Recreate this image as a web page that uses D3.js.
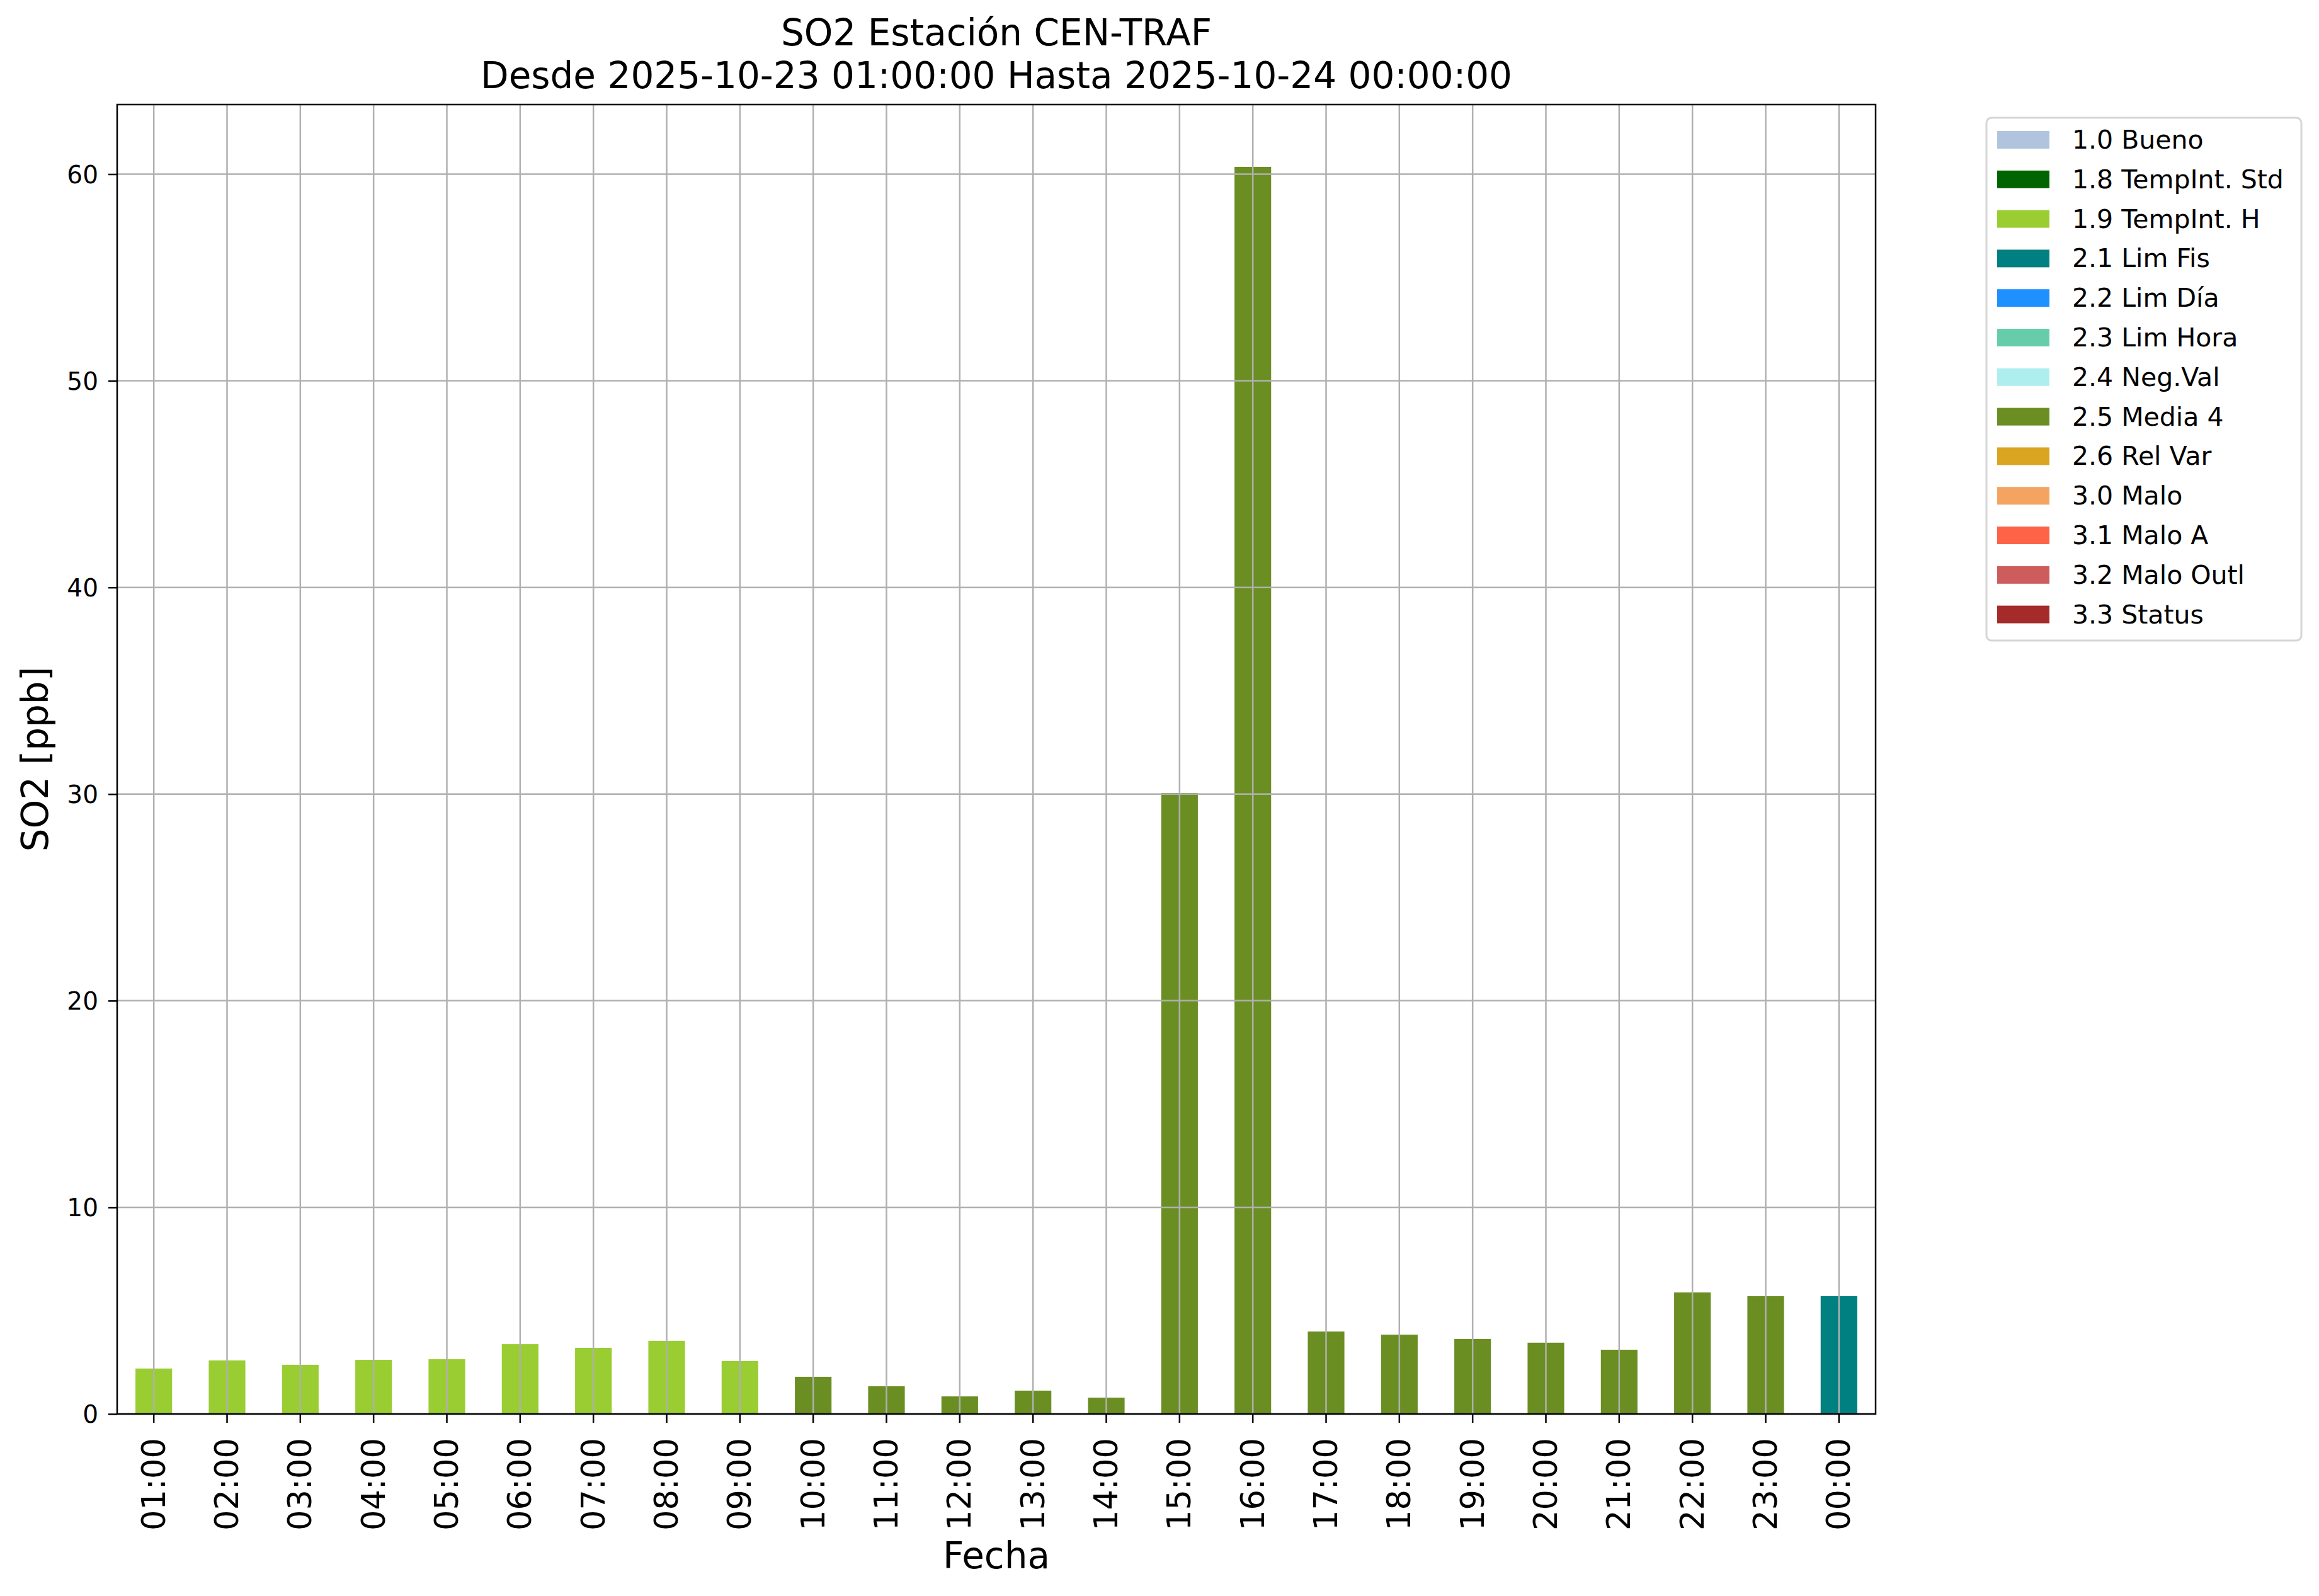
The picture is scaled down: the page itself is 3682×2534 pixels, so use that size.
<!DOCTYPE html>
<html><head><meta charset="utf-8">
<script src="https://cdn.jsdelivr.net/npm/d3@7"></script>
<style>body{margin:0;background:#fff}svg{display:block}text{font-family:"DejaVu Sans",sans-serif}</style>
</head><body>
<script>
const hours = ["01:00","02:00","03:00","04:00","05:00","06:00","07:00","08:00","09:00","10:00","11:00","12:00","13:00","14:00","15:00","16:00","17:00","18:00","19:00","20:00","21:00","22:00","23:00","00:00"];
const values = [2.2,2.59,2.38,2.62,2.65,3.38,3.2,3.54,2.56,1.8,1.34,0.85,1.13,0.79,30.05,60.35,3.99,3.84,3.63,3.45,3.11,5.88,5.70,5.70];
const flags = ["1.9","1.9","1.9","1.9","1.9","1.9","1.9","1.9","1.9","2.5","2.5","2.5","2.5","2.5","2.5","2.5","2.5","2.5","2.5","2.5","2.5","2.5","2.5","2.1"];
const legendCodes = ["1.0","1.8","1.9","2.1","2.2","2.3","2.4","2.5","2.6","3.0","3.1","3.2","3.3"];
const legendLabels = ["1.0 Bueno","1.8 TempInt. Std","1.9 TempInt. H","2.1 Lim Fis","2.2 Lim Día","2.3 Lim Hora","2.4 Neg.Val","2.5 Media 4","2.6 Rel Var","3.0 Malo","3.1 Malo A","3.2 Malo Outl","3.3 Status"];
const legendColors = ["#B0C4DE","#006400","#9ACD32","#008080","#1E90FF","#66CDAA","#AFEEEE","#6B8E23","#DAA520","#F4A460","#FF6347","#CD5C5C","#A52A2A"];
const yTicks = [0,10,20,30,40,50,60];

const W = 3682, H = 2534;
const L = 186, R = 2978, T = 166, B = 2245;
const svg = d3.select("body").append("svg").attr("width", W).attr("height", H);

const color = d3.scaleOrdinal().domain(legendCodes).range(legendColors);
const x = d3.scaleBand().domain(hours).range([L, R]).paddingInner(0.5).paddingOuter(0.25);
const yMax = d3.max(values) * 1.05;
const y = d3.scaleLinear().domain([0, yMax]).range([B, T]);

// bars
svg.append("g").selectAll("rect").data(values).join("rect")
  .attr("x", (d,i) => x(hours[i]))
  .attr("width", x.bandwidth())
  .attr("y", d => y(d))
  .attr("height", d => B - y(d))
  .attr("fill", (d,i) => color(flags[i]));

// grid
const grid = svg.append("g").attr("stroke", "#b0b0b0").attr("stroke-width", 2.5);
grid.selectAll(".gx").data(hours).join("line")
  .attr("x1", d => x(d) + x.bandwidth()/2).attr("x2", d => x(d) + x.bandwidth()/2)
  .attr("y1", T).attr("y2", B);
grid.selectAll(".gy").data(yTicks).join("line")
  .attr("x1", L).attr("x2", R).attr("y1", d => y(d)).attr("y2", d => y(d));

// axes
const xAxis = svg.append("g").attr("transform", `translate(0,${B})`)
  .call(d3.axisBottom(x).tickSize(14).tickPadding(10));
xAxis.select(".domain").remove();
xAxis.selectAll(".tick line").attr("stroke", "#000").attr("stroke-width", 2.5);
xAxis.selectAll(".tick text")
  .attr("font-size", 51).attr("fill", "#000")
  .attr("transform", "rotate(-90)")
  .attr("text-anchor", "end").attr("dominant-baseline", "central")
  .attr("x", -38).attr("y", 0).attr("dy", null);

const yAxis = svg.append("g").attr("transform", `translate(${L},0)`)
  .call(d3.axisLeft(y).tickValues(yTicks).tickSize(14).tickPadding(16).tickFormat(d3.format("d")));
yAxis.select(".domain").remove();
yAxis.selectAll(".tick line").attr("stroke", "#000").attr("stroke-width", 2.5);
yAxis.selectAll(".tick text").attr("font-size", 39).attr("fill", "#000").attr("dy", "0.35em");

// frame
svg.append("rect").attr("x", L).attr("y", T).attr("width", R - L).attr("height", B - T)
  .attr("fill", "none").attr("stroke", "#000").attr("stroke-width", 2.5);

// titles
svg.append("text").attr("x", (L+R)/2).attr("y", 52).attr("text-anchor", "middle")
  .attr("dominant-baseline", "central").attr("font-size", 58).text("SO2 Estación CEN-TRAF");
svg.append("text").attr("x", (L+R)/2).attr("y", 120).attr("text-anchor", "middle")
  .attr("dominant-baseline", "central").attr("font-size", 58).text("Desde 2025-10-23 01:00:00 Hasta 2025-10-24 00:00:00");
svg.append("text").attr("x", (L+R)/2).attr("y", 2470).attr("text-anchor", "middle")
  .attr("dominant-baseline", "central").attr("font-size", 58).text("Fecha");
svg.append("text").attr("transform", `translate(56,${(T+B)/2}) rotate(-90)`).attr("text-anchor", "middle")
  .attr("dominant-baseline", "central").attr("font-size", 58).text("SO2 [ppb]");

// legend
const lg = svg.append("g");
lg.append("rect").attr("x", 3154).attr("y", 187).attr("width", 500).attr("height", 830)
  .attr("rx", 8).attr("fill", "#fff").attr("stroke", "#d6d6d6").attr("stroke-width", 3);
const rows = lg.selectAll(".row").data(legendLabels).join("g")
  .attr("transform", (d,i) => `translate(0,${222 + i*62.8})`);
rows.append("rect").attr("x", 3171).attr("y", -14).attr("width", 83).attr("height", 28)
  .attr("fill", (d,i) => legendColors[i]);
rows.append("text").attr("x", 3290).attr("y", 0).attr("dominant-baseline", "central")
  .attr("font-size", 41).text(d => d);
</script>
</body></html>
